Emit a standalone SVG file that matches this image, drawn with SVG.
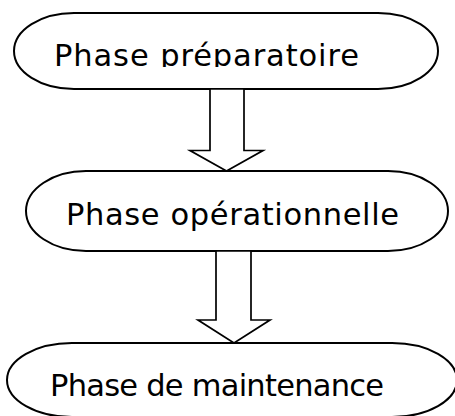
<svg xmlns="http://www.w3.org/2000/svg" width="455" height="416" viewBox="0 0 455 416">
<style>
.node{fill:#fff;stroke:#000;stroke-width:2}
.arr{fill:#fff;stroke:#000;stroke-width:1.7;stroke-linejoin:miter}
.lbl{font-family:"DejaVu Sans",Verdana,sans-serif;font-size:30.5px;fill:#000}
</style>
<defs>
<clipPath id="clip1"><rect x="0" y="0" width="455" height="67"/></clipPath>
</defs>
<rect width="455" height="416" fill="#fff"/>
<g id="n1">
<path class="node" d="M74,13 H378 A60,38 0 0 1 378,89 H74 A60,38 0 0 1 74,13 Z"/>
<text class="lbl" x="54" y="66" textLength="305" lengthAdjust="spacing" clip-path="url(#clip1)">Phase préparatoire</text>
</g>
<g id="n2">
<path class="node" d="M86,171 H388 A60,40 0 0 1 388,251 H86 A60,40 0 0 1 86,171 Z"/>
<text class="lbl" x="66" y="225" textLength="333" lengthAdjust="spacing">Phase opérationnelle</text>
</g>
<g id="n3">
<path class="node" d="M72,343 H392 A65,37 0 0 1 392,417 H72 A65,37 0 0 1 72,343 Z"/>
<text class="lbl" x="50" y="396" textLength="334" lengthAdjust="spacing">Phase de maintenance</text>
</g>
<g id="connectors">
<polygon class="arr" points="210,89 210,150.5 190,150.5 226.5,171 263,150.5 244,150.5 244,89"/>
<polygon class="arr" points="216,251 216,320 198,320 234,343 270,320 251,320 251,251"/>
</g>
</svg>
